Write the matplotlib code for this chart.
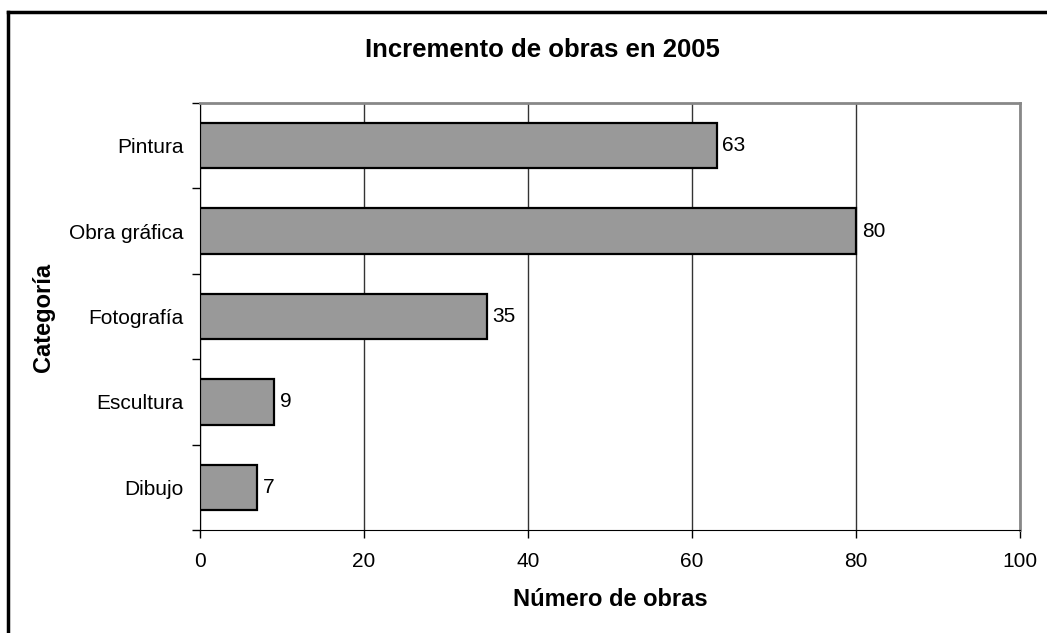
import matplotlib
matplotlib.use('Agg')
import matplotlib.pyplot as plt
from matplotlib.lines import Line2D

plt.rcParams['font.family'] = ['Liberation Sans', 'DejaVu Sans']

# data (top to bottom as shown)
categories = ['Pintura', 'Obra gráfica', 'Fotografía', 'Escultura', 'Dibujo']
values = [63, 80, 35, 9, 7]
xticks = [0, 20, 40, 60, 80, 100]

W, H = 1047, 633
fig = plt.figure(figsize=(W / 100, H / 100), dpi=100)
ax = fig.add_axes([200 / W, 1 - 530 / H, 820 / W, 427 / H])

# outer frame of the chart (runs off the right and bottom edges)
x0, y0 = 8 / W, 1 - 12 / H
fig.add_artist(Line2D([x0, 1.01], [y0, y0], color='black', lw=2.5, transform=fig.transFigure))
fig.add_artist(Line2D([x0, x0], [y0, -0.01], color='black', lw=2.5, transform=fig.transFigure))

ypos = list(range(len(categories)))[::-1]
ax.barh(ypos, values, height=0.53, color='#999999', edgecolor='black', linewidth=1.6, zorder=3)
for y, v in zip(ypos, values):
    ax.text(v + 0.7, y, str(v), va='center', ha='left', fontsize=15, zorder=4)

ax.set_xlim(0, 100)
ax.set_ylim(-0.5, len(categories) - 0.5)
ax.set_xticks(xticks)
ax.set_xticklabels([str(t) for t in xticks], fontsize=15)
ax.set_yticks(ypos)
ax.set_yticklabels(categories, fontsize=15)
ax.set_yticks([i - 0.5 for i in range(len(categories) + 1)], minor=True)
ax.tick_params(axis='y', which='major', length=0, pad=12)
ax.tick_params(axis='y', which='minor', length=6, width=1, color='black', direction='out')
ax.tick_params(axis='x', length=6, width=1, direction='out', pad=10)

ax.grid(axis='x', color='#333333', linewidth=1, zorder=0)
ax.set_axisbelow(True)

for s in ['top', 'right']:
    ax.spines[s].set_color('#888888')
    ax.spines[s].set_linewidth(2)
ax.spines['left'].set_color('black')
ax.spines['bottom'].set_color('black')

fig.text(610 / W, 1 - 599 / H, 'Número de obras', fontsize=17, fontweight='bold',
         ha='center', va='center')
fig.text(44 / W, 1 - 317 / H, 'Categoría', fontsize=17, fontweight='bold',
         ha='center', va='center', rotation=90)
fig.text(542 / W, 1 - 50 / H, 'Incremento de obras en 2005',
         fontsize=18.5, fontweight='bold', ha='center', va='center')

fig.savefig('out.png', dpi=100)
